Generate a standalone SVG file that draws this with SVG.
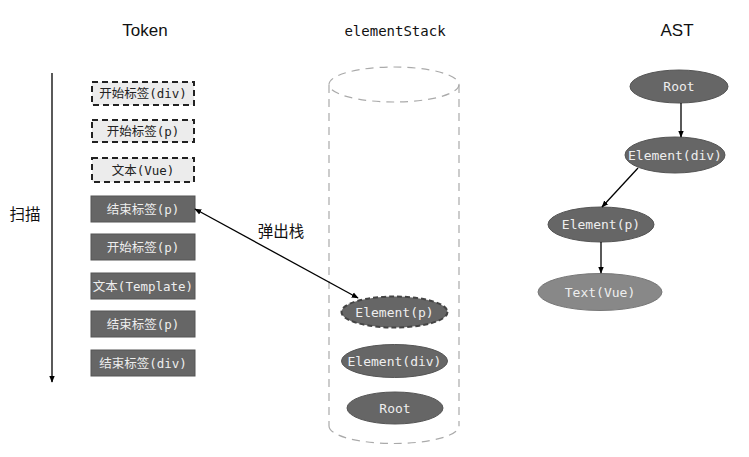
<svg xmlns="http://www.w3.org/2000/svg" width="749" height="457" viewBox="0 0 749 457">
  <defs>
    <marker id="arrow" viewBox="0 0 10 10" refX="9" refY="5" markerWidth="7" markerHeight="7" orient="auto-start-reverse" markerUnits="userSpaceOnUse">
      <path d="M0,1 L10,5 L0,9 z" fill="#000"/>
    </marker>
    <style>
      .title { font-family: "Liberation Sans", "Noto Sans CJK SC", sans-serif; font-size: 17px; fill: #111; text-anchor: middle; }
      .mono-title { font-family: "DejaVu Sans Mono", "Liberation Mono", monospace; font-size: 14px; fill: #111; text-anchor: middle; }
      .lbl { font-family: "DejaVu Sans Mono", "Noto Sans CJK SC", monospace; font-size: 12.5px; text-anchor: middle; dominant-baseline: central; }
      .nlbl { font-size: 13px; }
      .cn { font-family: "Noto Sans CJK SC", sans-serif; font-size: 15.5px; fill: #111; text-anchor: middle; dominant-baseline: central; }
      .tok-open { fill: #ececec; stroke: #222; stroke-width: 2; stroke-dasharray: 6 4; }
      .tok-open-text { fill: #222; }
      .tok-done { fill: #666; stroke: #555; stroke-width: 1; }
      .tok-done-text { fill: #eee; }
      .node { fill: #666; stroke: #555; stroke-width: 1; }
      .node-light { fill: #888; stroke: #777; stroke-width: 1; }
      .node-text { fill: #eee; }
      .cyl { fill: none; stroke: #aaa; stroke-width: 1.2; stroke-dasharray: 8 6; }
      .edge { stroke: #000; stroke-width: 1.3; fill: none; }
    </style>
  </defs>

  <rect width="749" height="457" fill="#fff"/>

  <!-- column headings -->
  <text class="title" x="145" y="36">Token</text>
  <text class="mono-title" x="395" y="36">elementStack</text>
  <text class="title" x="677" y="36">AST</text>

  <!-- scan direction -->
  <g id="scan">
    <line class="edge" x1="52" y1="73" x2="52" y2="382" marker-end="url(#arrow)"/>
    <text class="cn" x="25" y="213">扫描</text>
  </g>

  <!-- token list -->
  <g id="tok-open-div"><rect class="tok-open" x="92" y="82" width="102" height="23"/><text class="lbl tok-open-text" x="143" y="93.5">开始标签(div)</text></g>
  <g id="tok-open-p"><rect class="tok-open" x="92" y="120" width="102" height="22"/><text class="lbl tok-open-text" x="143" y="131">开始标签(p)</text></g>
  <g id="tok-text-vue"><rect class="tok-open" x="92" y="158" width="102" height="24"/><text class="lbl tok-open-text" x="143" y="170">文本(Vue)</text></g>
  <g id="tok-close-p1"><rect class="tok-done" x="91" y="196" width="104" height="26"/><text class="lbl tok-done-text" x="143" y="209">结束标签(p)</text></g>
  <g id="tok-open-p2"><rect class="tok-done" x="91" y="234" width="104" height="26"/><text class="lbl tok-done-text" x="143" y="247">开始标签(p)</text></g>
  <g id="tok-text-template"><rect class="tok-done" x="91" y="273" width="104" height="26"/><text class="lbl tok-done-text" x="143" y="286">文本(Template)</text></g>
  <g id="tok-close-p2"><rect class="tok-done" x="91" y="311" width="104" height="26"/><text class="lbl tok-done-text" x="143" y="324">结束标签(p)</text></g>
  <g id="tok-close-div"><rect class="tok-done" x="91" y="350" width="104" height="26"/><text class="lbl tok-done-text" x="143" y="363">结束标签(div)</text></g>

  <!-- element stack container -->
  <g id="stack">
    <ellipse class="cyl" cx="394" cy="84.5" rx="65" ry="17.5"/>
    <line class="cyl" x1="329" y1="85" x2="329" y2="426"/>
    <line class="cyl" x1="459" y1="85" x2="459" y2="426"/>
    <path class="cyl" d="M329,426 A65,17.5 0 0 0 459,426"/>
  </g>

  <g id="stack-element-p"><ellipse cx="394.5" cy="312" rx="53" ry="15.5" fill="#666" stroke="#444" stroke-width="2" stroke-dasharray="5 3"/><text class="lbl nlbl node-text" x="394.5" y="312">Element(p)</text></g>
  <g id="stack-element-div"><ellipse class="node" cx="394.5" cy="361" rx="53" ry="16.5"/><text class="lbl nlbl node-text" x="394.5" y="361">Element(div)</text></g>
  <g id="stack-root"><ellipse class="node" cx="395" cy="408" rx="48" ry="16"/><text class="lbl nlbl node-text" x="395" y="408">Root</text></g>

  <!-- AST -->
  <g id="ast-root"><ellipse class="node" cx="679" cy="86.5" rx="49" ry="16.5"/><text class="lbl nlbl node-text" x="679" y="86.5">Root</text></g>
  <g id="ast-element-div"><ellipse class="node" cx="675" cy="155" rx="50" ry="18"/><text class="lbl nlbl node-text" x="675" y="155">Element(div)</text></g>
  <g id="ast-element-p"><ellipse class="node" cx="601" cy="224.5" rx="53" ry="17.5"/><text class="lbl nlbl node-text" x="601" y="224.5">Element(p)</text></g>
  <g id="ast-text-vue"><ellipse class="node-light" cx="600" cy="292" rx="62" ry="18.5"/><text class="lbl nlbl node-text" x="600" y="292">Text(Vue)</text></g>

  <!-- connectors -->
  <g id="connectors">
    <line class="edge" x1="681" y1="103" x2="681" y2="137" marker-end="url(#arrow)"/>
    <line class="edge" x1="638" y1="168" x2="602" y2="207" marker-end="url(#arrow)"/>
    <line class="edge" x1="601" y1="242" x2="601" y2="273" marker-end="url(#arrow)"/>
    <line class="edge" x1="195" y1="209" x2="358" y2="298" marker-start="url(#arrow)" marker-end="url(#arrow)"/>
    <text class="cn" x="281" y="230">弹出栈</text>
  </g>
</svg>
